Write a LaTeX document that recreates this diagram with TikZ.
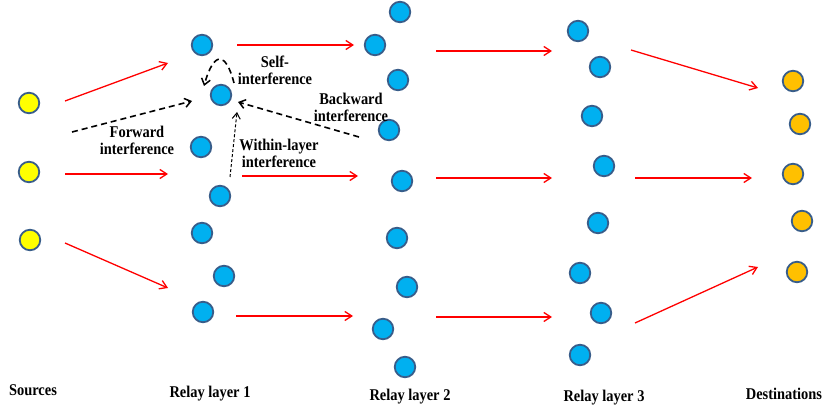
\documentclass[tikz,border=0pt]{standalone}
\usepackage{fontspec}
\setmainfont{Liberation Serif}
\newfontfamily\lblfont[FakeStretch=0.88]{Liberation Serif}
\usetikzlibrary{arrows.meta}
\definecolor{dotedge}{HTML}{385D8A}
\definecolor{relayblue}{HTML}{00B0F0}
\definecolor{srcyellow}{HTML}{FFFF00}
\definecolor{dstorange}{HTML}{FFC000}
\definecolor{linkred}{HTML}{FF0000}
\begin{document}
\begin{tikzpicture}[x=1pt,y=-1pt,
  dot/.style={circle,draw=dotedge,line width=1.8pt,minimum size=20.5pt,inner sep=0pt},
  relay/.style={dot,fill=relayblue},
  src/.style={dot,fill=srcyellow},
  dst/.style={dot,fill=dstorange},
  link/.style={draw=linkred,line width=1.3pt,-{Straight Barb[length=7pt,width=9pt,line width=1.3pt]}},
  intf/.style={draw=black,line width=1.6pt,dash pattern=on 6pt off 4pt,-{Straight Barb[length=6pt,width=9pt,line width=1.5pt]}},
  thinintf/.style={draw=black,line width=1pt,dash pattern=on 3pt off 2pt,-{Straight Barb[length=6pt,width=8pt,line width=1pt]}},
  lbl/.style={font=\lblfont\fontsize{16.4}{17}\selectfont\bfseries,align=center,inner sep=0pt},
  layer/.style={font=\lblfont\fontsize{16.4}{17}\selectfont\bfseries,inner sep=0pt,anchor=base}
]
\useasboundingbox (0,0) rectangle (822,409);

% sources
\node[src] (s1) at (29,103) {};
\node[src] (s2) at (29,172) {};
\node[src] (s3) at (30,240) {};

% relay layer 1
\node[relay] (a1) at (202,45) {};
\node[relay] (a2) at (221,95) {};
\node[relay] (a3) at (201,147) {};
\node[relay] (a4) at (220,196) {};
\node[relay] (a5) at (202,233) {};
\node[relay] (a6) at (224,276) {};
\node[relay] (a7) at (203,312) {};

% relay layer 2
\node[relay] (b1) at (400,12) {};
\node[relay] (b2) at (375,45) {};
\node[relay] (b3) at (398,80) {};
\node[relay] (b4) at (389,130) {};
\node[relay] (b5) at (402,181) {};
\node[relay] (b6) at (397,238) {};
\node[relay] (b7) at (407,287) {};
\node[relay] (b8) at (383,329) {};
\node[relay] (b9) at (405,367) {};

% relay layer 3
\node[relay] (c1) at (578,31) {};
\node[relay] (c2) at (600,67) {};
\node[relay] (c3) at (592,116) {};
\node[relay] (c4) at (604,166) {};
\node[relay] (c5) at (598,223) {};
\node[relay] (c6) at (580,273) {};
\node[relay] (c7) at (601,313) {};
\node[relay] (c8) at (580,355) {};

% destinations
\node[dst] (d1) at (793,81) {};
\node[dst] (d2) at (800,124) {};
\node[dst] (d3) at (793,174) {};
\node[dst] (d4) at (802,221) {};
\node[dst] (d5) at (797,272) {};

% ends of the transmission arrows
\coordinate (p1s) at (65,101);  \coordinate (p1e) at (168,63);
\coordinate (p2s) at (65,174);  \coordinate (p2e) at (168,174);
\coordinate (p3s) at (65,243);  \coordinate (p3e) at (168,288);
\coordinate (q1s) at (237,45);  \coordinate (q1e) at (354,45);
\coordinate (q2s) at (242,176); \coordinate (q2e) at (358,176);
\coordinate (q3s) at (236,316); \coordinate (q3e) at (353,316);
\coordinate (r1s) at (436,51);  \coordinate (r1e) at (552,51);
\coordinate (r2s) at (436,178); \coordinate (r2e) at (552,178);
\coordinate (r3s) at (436,317); \coordinate (r3e) at (552,317);
\coordinate (t1s) at (631,50);  \coordinate (t1e) at (758,88);
\coordinate (t2s) at (635,178); \coordinate (t2e) at (752,178);
\coordinate (t3s) at (635,323); \coordinate (t3e) at (758,267);

\foreach \k in {p1,p2,p3,q1,q2,q3,r1,r2,r3,t1,t2,t3}
  \draw[link] (\k s) -- (\k e);

% interference paths onto one relay of layer 1
\coordinate (fwds) at (72,132);  \coordinate (fwde) at (192,101);
\coordinate (bwds) at (359,137); \coordinate (bwde) at (238,102);
\coordinate (wins) at (230,177); \coordinate (wine) at (237,112);
\coordinate (slfs) at (234,83);  \coordinate (slfe) at (204,86);

\draw[intf] (fwds) -- (fwde);
\draw[intf] (bwds) -- (bwde);
\draw[thinintf] (wins) -- (wine);
\draw[intf] (slfs) .. controls (226,52) and (214,50) .. (slfe);

% labels
\node[lbl] (lself) at (275,70) {Self-\\interference};
\node[lbl] (lbwd) at (351,107) {Backward\\interference};
\node[lbl] (lfwd) at (137,140) {Forward\\interference};
\node[lbl] (lwin) at (279,153) {Within-layer\\interference};

\node[layer] (nsrc) at (33,395) {Sources};
\node[layer] (nl1) at (210,397) {Relay layer 1};
\node[layer] (nl2) at (410,400) {Relay layer 2};
\node[layer] (nl3) at (604,401) {Relay layer 3};
\node[layer] (ndst) at (784,399) {Destinations};
\end{tikzpicture}
\end{document}
